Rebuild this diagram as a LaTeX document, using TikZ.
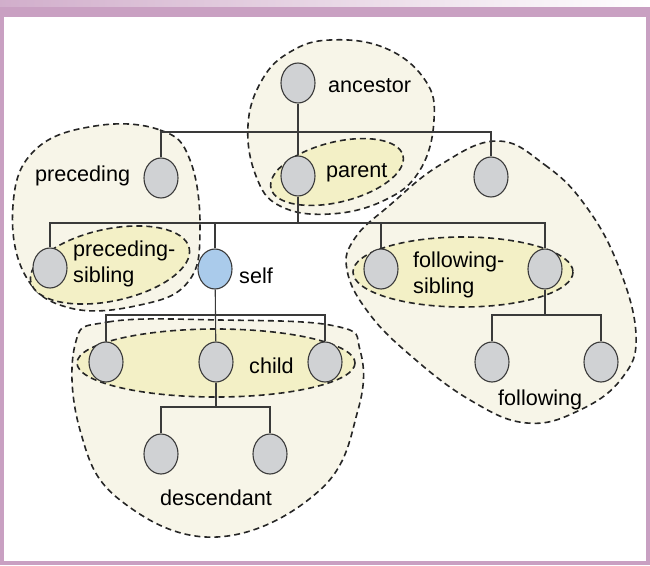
\documentclass[tikz,border=0pt]{standalone}
\usepackage{fontspec}
\setmainfont{Liberation Sans}
\usetikzlibrary{shapes.geometric}

\definecolor{framec}{HTML}{C9A0C2}
\definecolor{outerc}{HTML}{F7F5E8}
\definecolor{innerc}{HTML}{F3F0C6}
\definecolor{nodec}{HTML}{D0D2D4}
\definecolor{selfc}{HTML}{AACBEB}
\definecolor{linec}{HTML}{3A3A3A}

\tikzset{
  axnode/.style={ellipse, draw=linec, line width=1.1pt, fill=nodec,
    minimum width=34pt, minimum height=40pt, inner sep=0pt},
  axlabel/.style={anchor=base west, inner sep=0pt, align=left,
    font=\fontsize{21.6}{25.5}\selectfont},
  outerblob/.style={fill=outerc, draw=black!85, line width=1.6pt,
    dash pattern=on 6pt off 4pt},
  innerblob/.style={fill=innerc, draw=black!85, line width=1.6pt,
    dash pattern=on 6pt off 4pt},
  treeline/.style={draw=linec, line width=1.1pt}
}

\begin{document}
\begin{tikzpicture}[x=1pt,y=-1pt]
\useasboundingbox (0,0) rectangle (650,565);
% frame
\fill[framec] (0,0) rectangle (650,565);
\shade[left color=framec!85, right color=white] (0,0) rectangle (650,6);
\fill[white] (4,17) rectangle (646,561);

% axis regions
\draw[outerblob] plot[smooth cycle, tension=0.7] coordinates {(330,40) (385,48) (425,80) (434,120) (420,170) (385,200) (330,214) (280,206) (256,176) (248,125) (262,80) (290,52)};
\draw[outerblob] plot[smooth cycle, tension=0.7] coordinates {(95,126) (160,130) (190,160) (200,230) (188,282) (140,305) (70,308) (25,275) (13,205) (35,150)};
\draw[outerblob] plot[smooth cycle, tension=0.7] coordinates {(497,141) (545,165) (585,205) (618,265) (636,335) (622,378) (580,410) (527,423) (470,400) (410,355) (368,312) (347,270) (355,238) (390,205) (440,165)};
\draw[outerblob] plot[smooth cycle, tension=0.7] coordinates {(75,345) (108,322) (220,320) (335,326) (360,350) (358,410) (320,490) (217,537) (120,500) (80,430)};
\draw[innerblob, rotate around={14:(337,172)}] (337,172) ellipse (68 and 30);
\draw[innerblob, rotate around={12:(110,265)}] (110,265) ellipse (81 and 36);
\draw[innerblob] (463,272) ellipse (110 and 35);
\draw[innerblob] (216,363) ellipse (139 and 34);

% nodes
\node[axnode] (anc) at (298,83) {};
\node[axnode] (pre) at (161,178) {};
\node[axnode] (par) at (298,176) {};
\node[axnode] (fol) at (491,177) {};
\node[axnode] (psib) at (50,268) {};
\node[axnode, fill=selfc] (self) at (215,269) {};
\node[axnode] (fsib1) at (381,269) {};
\node[axnode] (fsib2) at (545,269) {};
\node[axnode] (fol1) at (492,362) {};
\node[axnode] (fol2) at (601,362) {};
\node[axnode] (ch1) at (106,362) {};
\node[axnode] (ch2) at (216,362) {};
\node[axnode] (ch3) at (325,362) {};
\node[axnode] (des1) at (161,454) {};
\node[axnode] (des2) at (270,454) {};

\coordinate (j1) at (298,132);
\coordinate (j2) at (298,223);
\coordinate (j3) at (216,315);
\coordinate (j4) at (545,315);
\coordinate (j5) at (216,407);

% tree
\draw[treeline] (anc) -- (par);
\draw[treeline] (pre.north) |- (j1) -| (fol.north);
\draw[treeline] (par) -- (j2);
\draw[treeline] (psib.north) |- (j2) -| (fsib2.north);
\draw[treeline] (self.north) -- (self.north |- j2);
\draw[treeline] (fsib1.north) -- (fsib1.north |- j2);
\draw[treeline] (fsib2) -- (j4);
\draw[treeline] (fol1.north) |- (j4) -| (fol2.north);
\draw[treeline] (self) -- (ch2);
\draw[treeline] (ch1.north) |- (j3) -| (ch3.north);
\draw[treeline] (ch2) -- (j5);
\draw[treeline] (des1.north) |- (j5) -| (des2.north);

% labels
\node[axlabel] (lanc) at (328,92) {ancestor};
\node[axlabel] (lpar) at (326,177) {parent};
\node[axlabel] (lpre) at (35,181) {preceding};
\node[axlabel] (lpsib) at (73,282) {preceding-\\sibling};
\node[axlabel] (lself) at (239,283) {self};
\node[axlabel] (lfsib) at (413,293) {following-\\sibling};
\node[axlabel] (lfol) at (498,405) {following};
\node[axlabel] (lch) at (249,373) {child};
\node[axlabel] (ldes) at (160,505) {descendant};
\end{tikzpicture}
\end{document}
